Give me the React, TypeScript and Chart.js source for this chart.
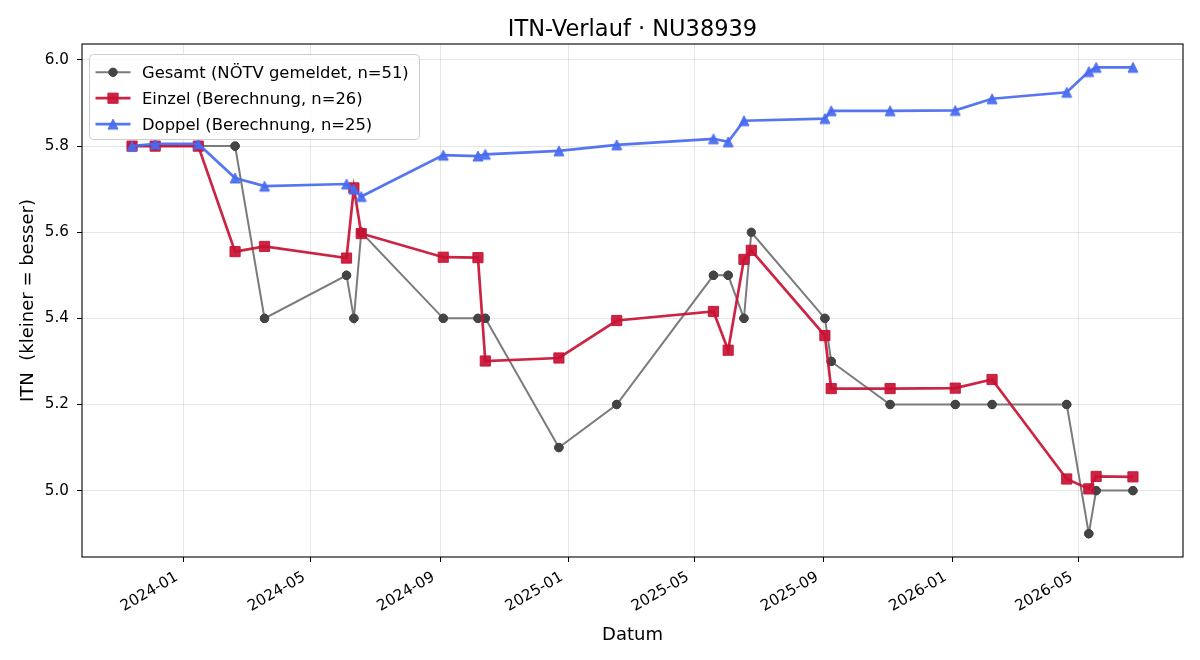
import React, { useEffect, useRef } from "react";
import { Chart, registerables } from "chart.js";

Chart.register(...registerables);

// Match dates (ISO) and the resulting ITN per series
const einzelDates = [
  "2023-11-13", "2023-12-05", "2024-01-15", "2024-02-19", "2024-03-18",
  "2024-06-04", "2024-06-11", "2024-06-18", "2024-09-04", "2024-10-07",
  "2024-10-14", "2024-12-23", "2025-02-16", "2025-05-19", "2025-06-02",
  "2025-06-17", "2025-06-24", "2025-09-02", "2025-09-08", "2025-11-03",
  "2026-01-04", "2026-02-08", "2026-04-20", "2026-05-11", "2026-05-18",
  "2026-06-22",
];
const einzelValues = [
  5.8, 5.8, 5.8, 5.555, 5.567,
  5.54, 5.703, 5.597, 5.542, 5.541,
  5.301, 5.308, 5.395, 5.416, 5.326,
  5.537, 5.558, 5.36, 5.237, 5.237,
  5.238, 5.258, 5.027, 5.004, 5.033,
  5.032,
];

const doppelDates = [
  "2023-11-13", "2023-12-05", "2024-01-15", "2024-02-19", "2024-03-18",
  "2024-06-04", "2024-06-11", "2024-06-18", "2024-09-04", "2024-10-07",
  "2024-10-14", "2024-12-23", "2025-02-16", "2025-05-19", "2025-06-02",
  "2025-06-17", "2025-09-02", "2025-09-08", "2025-11-03", "2026-01-04",
  "2026-02-08", "2026-04-20", "2026-05-11", "2026-05-18", "2026-06-22",
];
const doppelValues = [
  5.8, 5.805, 5.805, 5.726, 5.707,
  5.712, 5.7, 5.683, 5.779, 5.777,
  5.781, 5.789, 5.803, 5.817, 5.81,
  5.859, 5.864, 5.882, 5.882, 5.883,
  5.91, 5.925, 5.973, 5.983, 5.983,
];

// Reported ITN (one entry per match, singles and doubles)
const gesamtDates = [
  "2023-11-13", "2023-11-13", "2023-12-05", "2023-12-05", "2024-01-15",
  "2024-01-15", "2024-02-19", "2024-02-19", "2024-03-18", "2024-03-18",
  "2024-06-04", "2024-06-04", "2024-06-11", "2024-06-11", "2024-06-18",
  "2024-06-18", "2024-09-04", "2024-09-04", "2024-10-07", "2024-10-07",
  "2024-10-14", "2024-10-14", "2024-12-23", "2024-12-23", "2025-02-16",
  "2025-02-16", "2025-05-19", "2025-05-19", "2025-06-02", "2025-06-02",
  "2025-06-17", "2025-06-17", "2025-06-24", "2025-09-02", "2025-09-02",
  "2025-09-08", "2025-09-08", "2025-11-03", "2025-11-03", "2026-01-04",
  "2026-01-04", "2026-02-08", "2026-02-08", "2026-04-20", "2026-04-20",
  "2026-05-11", "2026-05-11", "2026-05-18", "2026-05-18", "2026-06-22",
  "2026-06-22",
];
const gesamtValues = [
  5.8, 5.8, 5.8, 5.8, 5.8,
  5.8, 5.8, 5.8, 5.4, 5.4,
  5.5, 5.5, 5.4, 5.4, 5.6,
  5.6, 5.4, 5.4, 5.4, 5.4,
  5.4, 5.4, 5.1, 5.1, 5.2,
  5.2, 5.5, 5.5, 5.5, 5.5,
  5.4, 5.4, 5.6, 5.4, 5.4,
  5.3, 5.3, 5.2, 5.2, 5.2,
  5.2, 5.2, 5.2, 5.2, 5.2,
  4.9, 4.9, 5.0, 5.0, 5.0,
  5.0,
];

const xTickMonths = [
  "2024-01", "2024-05", "2024-09", "2025-01",
  "2025-05", "2025-09", "2026-01", "2026-05",
];
const yTickValues = [5.0, 5.2, 5.4, 5.6, 5.8, 6.0];

const seriesLabels = [
  "Gesamt (NÖTV gemeldet, n=51)",
  "Einzel (Berechnung, n=26)",
  "Doppel (Berechnung, n=25)",
];
const chartTitle = "ITN-Verlauf · NU38939";
const xAxisTitle = "Datum";
const yAxisTitle = "ITN  (kleiner = besser)";

const FONT = "'DejaVu Sans', sans-serif";
const TICK_FONT_SIZE = 15.2;
const DAY_MS = 86400000;

const dayNumber = (iso: string) => {
  const [y, m, d] = iso.split("-").map(Number);
  return Date.UTC(y, m - 1, d || 1) / DAY_MS;
};
const monthLabel = (day: number) => {
  const dt = new Date(Math.round(day) * DAY_MS);
  return `${dt.getUTCFullYear()}-${String(dt.getUTCMonth() + 1).padStart(2, "0")}`;
};
const withMargin = (values: number[], frac = 0.05) => {
  const lo = Math.min(...values);
  const hi = Math.max(...values);
  const m = (hi - lo) * frac;
  return [lo - m, hi + m];
};
const toPoints = (dates: string[], values: number[]) =>
  dates.map((d, i) => ({ x: dayNumber(d), y: values[i] }));

// Upward triangle marker with equal width and height
function triangleMarker(color: string, size: number) {
  const s = Math.ceil(size) + 4;
  const c = document.createElement("canvas");
  c.width = s;
  c.height = s;
  const g = c.getContext("2d")!;
  const h = size / 2;
  const cx = s / 2;
  const cy = s / 2;
  g.beginPath();
  g.moveTo(cx, cy - h);
  g.lineTo(cx - h, cy + h);
  g.lineTo(cx + h, cy + h);
  g.closePath();
  g.fillStyle = color;
  g.fill();
  g.lineWidth = 1;
  g.strokeStyle = color;
  g.stroke();
  return c;
}

const GRID = "rgba(176,176,176,0.32)";

const decorations = {
  id: "decorations",
  afterDraw(chart: any) {
    const { ctx, chartArea: a } = chart;
    ctx.save();

    // axes frame
    ctx.strokeStyle = "#000";
    ctx.lineWidth = 1.1;
    ctx.strokeRect(a.left, a.top, a.right - a.left, a.bottom - a.top);

    // rotated date labels: right end of each label hangs below its tick
    const xs = chart.scales.x;
    const f = TICK_FONT_SIZE;
    const descent = 0.208 * f;
    const boxH = 0.968 * f;
    const y0 = a.bottom + 12.5;
    const ang = Math.PI / 6;
    ctx.fillStyle = "#000";
    ctx.font = `${f}px ${FONT}`;
    ctx.textAlign = "right";
    ctx.textBaseline = "alphabetic";
    xs.ticks.forEach((t: any) => {
      const px = xs.getPixelForValue(t.value);
      ctx.save();
      ctx.translate(px - 3 - descent * Math.sin(ang), y0 + (boxH - descent) * Math.cos(ang));
      ctx.rotate(-ang);
      ctx.fillText(monthLabel(t.value), 0, 0);
      ctx.restore();
    });

    // title
    ctx.textAlign = "center";
    ctx.textBaseline = "alphabetic";
    ctx.font = `22.5px ${FONT}`;
    ctx.fillText(chartTitle, (a.left + a.right) / 2, 36);

    // axis titles
    ctx.font = `18px ${FONT}`;
    ctx.fillText(xAxisTitle, (a.left + a.right) / 2, 639.5);
    ctx.save();
    ctx.translate(33, (a.top + a.bottom) / 2);
    ctx.rotate(-Math.PI / 2);
    ctx.fillText(yAxisTitle, 0, 0);
    ctx.restore();

    // legend
    const bx = 89.5, by = 54.5, bw = 330, bh = 85, r = 4;
    ctx.beginPath();
    ctx.moveTo(bx + r, by);
    ctx.arcTo(bx + bw, by, bx + bw, by + bh, r);
    ctx.arcTo(bx + bw, by + bh, bx, by + bh, r);
    ctx.arcTo(bx, by + bh, bx, by, r);
    ctx.arcTo(bx, by, bx + bw, by, r);
    ctx.closePath();
    ctx.fillStyle = "rgba(255,255,255,0.8)";
    ctx.fill();
    ctx.strokeStyle = "#cccccc";
    ctx.lineWidth = 1;
    ctx.stroke();

    chart.data.datasets.forEach((ds: any, i: number) => {
      const y = 72.3 + i * 25.9;
      ctx.strokeStyle = ds.borderColor;
      ctx.lineWidth = ds.borderWidth;
      ctx.beginPath();
      ctx.moveTo(95.5, y);
      ctx.lineTo(130.5, y);
      ctx.stroke();

      const mx = 113;
      const style = ds.pointStyle;
      const rad = ds.pointRadius;
      ctx.fillStyle = ds.pointBackgroundColor;
      ctx.strokeStyle = ds.pointBorderColor;
      ctx.lineWidth = ds.pointBorderWidth;
      if (typeof style === "object") {
        ctx.drawImage(style, mx - style.width / 2, y - style.height / 2);
      } else if (style === "rect") {
        const s = rad * Math.SQRT1_2;
        ctx.beginPath();
        ctx.rect(mx - s, y - s, 2 * s, 2 * s);
        ctx.fill();
        ctx.stroke();
      } else {
        ctx.beginPath();
        ctx.arc(mx, y, rad, 0, Math.PI * 2);
        ctx.fill();
        ctx.stroke();
      }

      ctx.fillStyle = "#000";
      ctx.textAlign = "left";
      ctx.textBaseline = "alphabetic";
      ctx.font = `16.4px ${FONT}`;
      ctx.fillText(seriesLabels[i], 142, y + 5.8);
    });

    ctx.restore();
  },
};

export default function App() {
  const canvasRef = useRef<HTMLCanvasElement | null>(null);

  useEffect(() => {
    if (!canvasRef.current) return;
    Chart.defaults.font.family = FONT;

    const allDays = [...gesamtDates, ...einzelDates, ...doppelDates].map(dayNumber);
    const allValues = [...gesamtValues, ...einzelValues, ...doppelValues];
    const [xMin, xMax] = withMargin(allDays);
    const [yMin, yMax] = withMargin(allValues);
    const xTickDays = xTickMonths.map((m) => dayNumber(`${m}-01`));

    const red = "rgba(200,18,52,0.92)";
    const blue = "rgba(72,106,240,0.92)";

    const chart = new Chart(canvasRef.current, {
      type: "line",
      data: {
        datasets: [
          {
            label: seriesLabels[0],
            data: toPoints(gesamtDates, gesamtValues),
            borderColor: "#7b7b7b",
            borderWidth: 2,
            pointStyle: "circle",
            pointRadius: 4.2,
            pointBackgroundColor: "#444444",
            pointBorderColor: "#444444",
            pointBorderWidth: 1,
            tension: 0,
            order: 3,
          },
          {
            label: seriesLabels[1],
            data: toPoints(einzelDates, einzelValues),
            borderColor: red,
            borderWidth: 2.7,
            pointStyle: "rect",
            pointRadius: 7.2,
            pointBackgroundColor: red,
            pointBorderColor: red,
            pointBorderWidth: 1,
            tension: 0,
            order: 2,
          },
          {
            label: seriesLabels[2],
            data: toPoints(doppelDates, doppelValues),
            borderColor: blue,
            borderWidth: 2.7,
            pointStyle: triangleMarker(blue, 10) as any,
            pointRadius: 6,
            pointBackgroundColor: blue,
            pointBorderColor: blue,
            pointBorderWidth: 1,
            tension: 0,
            order: 1,
          },
        ],
      },
      options: {
        animation: false,
        responsive: false,
        devicePixelRatio: 1,
        events: [],
        layout: { padding: { top: 44, right: 17, left: 0, bottom: 0 } },
        plugins: {
          legend: { display: false },
          title: { display: false },
          tooltip: { enabled: false },
        },
        scales: {
          x: {
            type: "linear",
            min: xMin,
            max: xMax,
            afterBuildTicks: (s: any) => {
              s.ticks = xTickDays.map((v) => ({ value: v }));
            },
            afterFit: (s: any) => {
              s.height = 103;
            },
            ticks: {
              display: false,
              autoSkip: false,
              callback: (v: any) => monthLabel(Number(v)),
            },
            grid: {
              color: GRID,
              lineWidth: 1,
              drawTicks: true,
              tickLength: 5,
              tickColor: "#000",
              tickWidth: 1,
            },
            border: { display: false },
          },
          y: {
            type: "linear",
            min: yMin,
            max: yMax,
            afterBuildTicks: (s: any) => {
              s.ticks = yTickValues.map((v) => ({ value: v }));
            },
            afterFit: (s: any) => {
              s.width = 82;
            },
            ticks: {
              color: "#000",
              padding: 8,
              font: { size: TICK_FONT_SIZE, family: FONT },
              callback: (v: any) => Number(v).toFixed(1),
            },
            grid: {
              color: GRID,
              lineWidth: 1,
              drawTicks: true,
              tickLength: 5,
              tickColor: "#000",
              tickWidth: 1,
            },
            border: { display: false },
          },
        },
      },
      plugins: [decorations],
    });

    return () => chart.destroy();
  }, []);

  return (
    <div style={{ position: "absolute", left: 0, top: 0, width: 1200, height: 660, background: "#fff" }}>
      <canvas ref={canvasRef} width={1200} height={660} />
    </div>
  );
}
